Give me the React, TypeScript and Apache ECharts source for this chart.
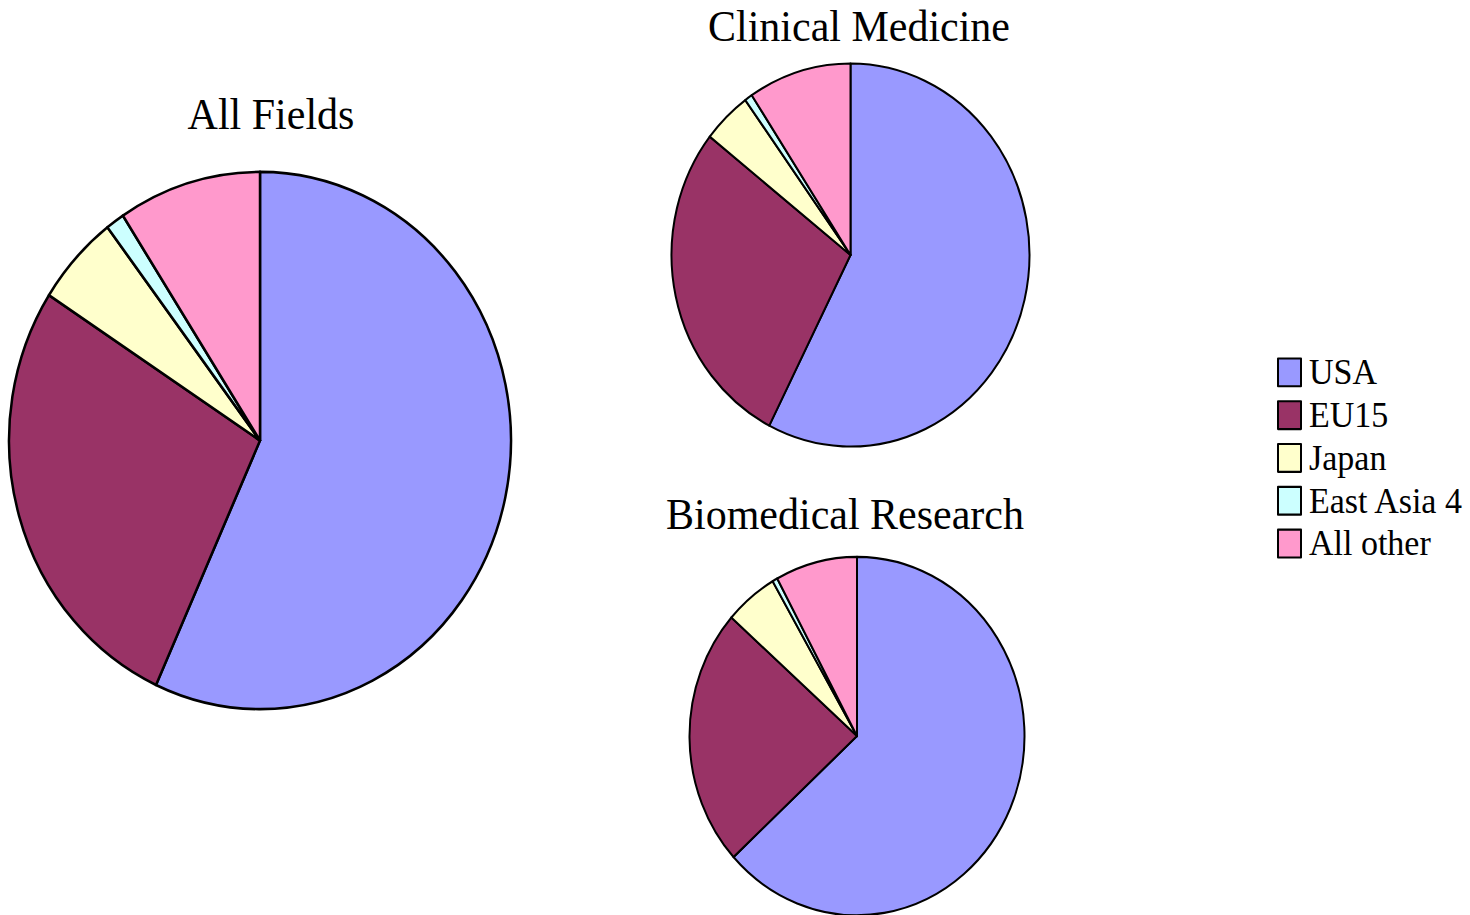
import React, { useEffect, useRef } from "react";
import * as echarts from "echarts";

// Share of publications by region, in percent
const categories = ["USA", "EU15", "Japan", "East Asia 4", "All other"];
const allFields = [56.8, 27.3, 5.5, 1.2, 9.2];
const clinicalMedicine = [57.5, 28.1, 4.4, 0.7, 9.3];
const biomedicalResearch = [63.2, 23.3, 5.1, 0.5, 7.9];
const chartTitles = ["All Fields", "Clinical Medicine", "Biomedical Research"];

const colors = ["#9999FF", "#993366", "#FFFFCC", "#CCFFFF", "#FF99CC"];

const FONT = "Liberation Serif";
// The drawing is stretched vertically a little, so pies come out slightly oval.
const STRETCH = 1.07;
const WIDTH = 1470;
const HEIGHT = 915;

function toData(values: number[]) {
  return categories.map((name, i) => ({ name, value: values[i] }));
}

export default function App() {
  const ref = useRef<HTMLDivElement>(null);

  useEffect(() => {
    if (!ref.current) return;
    const chart = echarts.init(ref.current, null, { renderer: "svg" });

    const pieBase = {
      type: "pie" as const,
      startAngle: 90,
      clockwise: true,
      label: { show: false },
      labelLine: { show: false },
      emphasis: { disabled: true },
      silent: true,
    };

    const titleText = (text: string, x: number, y: number) => ({
      type: "text",
      x,
      y,
      silent: true,
      style: {
        text,
        fontFamily: FONT,
        fontSize: 42,
        fill: "#000",
        textAlign: "center",
        textVerticalAlign: "middle",
      },
    });

    chart.setOption({
      animation: false,
      color: colors,
      backgroundColor: "#fff",
      graphic: [
        titleText(chartTitles[0], 271, 106),
        titleText(chartTitles[1], 859, 23.5),
        titleText(chartTitles[2], 845, 480),
      ],
      legend: {
        orient: "vertical",
        left: 1272,
        top: 326,
        icon: "rect",
        itemWidth: 23,
        itemHeight: 26,
        itemGap: 6,
        selectedMode: false,
        data: categories,
        itemStyle: { borderColor: "#000", borderWidth: 2 },
        textStyle: {
          fontFamily: FONT,
          fontSize: 34,
          color: "#000",
          padding: [0, 0, 0, 3],
        },
      },
      series: [
        {
          ...pieBase,
          name: chartTitles[0],
          center: [260, 411.7],
          radius: 251,
          itemStyle: { borderColor: "#000", borderWidth: 2.5 },
          data: toData(allFields),
        },
        {
          ...pieBase,
          name: chartTitles[1],
          center: [850.5, 238.3],
          radius: 179,
          itemStyle: { borderColor: "#000", borderWidth: 2 },
          data: toData(clinicalMedicine),
        },
        {
          ...pieBase,
          name: chartTitles[2],
          center: [857, 687.9],
          radius: 167.5,
          itemStyle: { borderColor: "#000", borderWidth: 2 },
          data: toData(biomedicalResearch),
        },
      ],
    });

    return () => chart.dispose();
  }, []);

  return (
    <div
      style={{
        position: "absolute",
        left: 0,
        top: 0,
        width: WIDTH,
        height: HEIGHT,
        overflow: "hidden",
        background: "#fff",
      }}
    >
      <div
        ref={ref}
        style={{
          width: WIDTH,
          height: Math.ceil(HEIGHT / STRETCH),
          transform: `scaleY(${STRETCH})`,
          transformOrigin: "0 0",
        }}
      />
    </div>
  );
}
